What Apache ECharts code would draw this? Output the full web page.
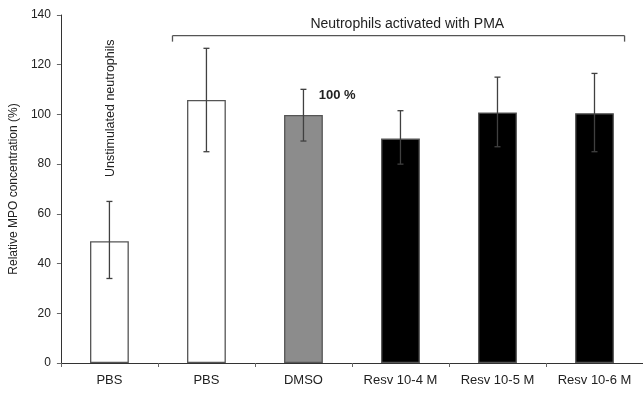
<!DOCTYPE html>
<html><head><meta charset="utf-8">
<script src="https://cdn.jsdelivr.net/npm/echarts@6/dist/echarts.min.js"></script>
<style>html,body{margin:0;padding:0;background:#fff}#c{width:643px;height:393px}</style>
</head><body><div id="c"></div>
<script>
const categories = ['PBS', 'PBS', 'DMSO', 'Resv 10-4 M', 'Resv 10-5 M', 'Resv 10-6 M'];
const means = [49, 105.8, 99.8, 90.3, 100.8, 100.5];
const errLow = [34, 85, 89.3, 80, 87, 85];
const errHigh = [65, 126.6, 110.1, 101.5, 115, 116.5];
const barColors = ['#ffffff', '#ffffff', '#8c8c8c', '#000000', '#000000', '#000000'];
const yTicks = [0, 20, 40, 60, 80, 100, 120, 140];
const bracketText = 'Neutrophils activated with PMA';
const bracketLevel = 131.7;
const unstimText = 'Unstimulated neutrophils';
const pctText = '100 %';

const chart = echarts.init(document.getElementById('c'), null, {renderer: 'canvas'});
const font = 'Liberation Sans, Arial, sans-serif';
const ink = '#222';

chart.setOption({
  animation: false,
  backgroundColor: '#fff',
  grid: {left: 60, top: 15, bottom: 30, width: 594},
  xAxis: {
    type: 'category', data: categories,
    axisLine: {lineStyle: {color: '#333', width: 1}},
    axisTick: {show: true, length: 4, lineStyle: {color: '#666'}},
    axisLabel: {color: ink, fontFamily: font, fontSize: 13, margin: 11}
  },
  yAxis: {
    type: 'value', min: yTicks[0], max: yTicks[yTicks.length - 1], interval: 20,
    name: 'Relative MPO concentration (%)', nameLocation: 'middle', nameGap: 38,
    nameTextStyle: {color: ink, fontFamily: font, fontSize: 12},
    axisLine: {show: true, lineStyle: {color: '#333', width: 1}},
    axisTick: {show: true, length: 4, lineStyle: {color: '#666'}},
    axisLabel: {color: ink, fontFamily: font, fontSize: 12, margin: 10},
    splitLine: {show: false}
  },
  series: [
    {
      type: 'bar', barWidth: '40%',
      data: means.map((v, i) => ({value: v, itemStyle: {color: barColors[i], borderColor: '#555', borderWidth: 1.3}}))
    },
    {
      type: 'custom', z: 5,
      data: means.map((v, i) => [i, errLow[i], errHigh[i]]),
      renderItem: function (params, api) {
        const lo = api.coord([api.value(0), api.value(1)]);
        const hi = api.coord([api.value(0), api.value(2)]);
        const cap = 3;
        const st = {stroke: '#404040', lineWidth: 1.3};
        return {type: 'group', children: [
          {type: 'line', shape: {x1: lo[0], y1: lo[1], x2: hi[0], y2: hi[1]}, style: st},
          {type: 'line', shape: {x1: lo[0] - cap, y1: lo[1], x2: lo[0] + cap, y2: lo[1]}, style: st},
          {type: 'line', shape: {x1: hi[0] - cap, y1: hi[1], x2: hi[0] + cap, y2: hi[1]}, style: st}
        ]};
      }
    },
    {
      type: 'custom', z: 6,
      data: [[1, 5, bracketLevel]],
      renderItem: function (params, api) {
        const band = api.size([1, 0])[0];
        const a = api.coord([api.value(0), api.value(2)]);
        const b = api.coord([api.value(1), api.value(2)]);
        const x1 = a[0] - 0.35 * band, x2 = b[0] + 0.31 * band, y = a[1];
        const st = {stroke: '#555', lineWidth: 1.3};
        return {type: 'group', children: [
          {type: 'line', shape: {x1: x1, y1: y, x2: x2, y2: y}, style: st},
          {type: 'line', shape: {x1: x1, y1: y, x2: x1, y2: y + 6}, style: st},
          {type: 'line', shape: {x1: x2, y1: y, x2: x2, y2: y + 6}, style: st},
          {type: 'text', x: (x1 + x2) / 2 + 0.09 * band, y: y - 4, style: {text: bracketText, fill: ink, font: '14px ' + font, align: 'center', verticalAlign: 'bottom'}}
        ]};
      }
    },
    {
      type: 'custom', z: 6,
      data: [[0, 102.5, 0], [2, 107.8, 1]],
      renderItem: function (params, api) {
        const p = api.coord([api.value(0), api.value(1)]);
        if (api.value(2) === 0) {
          return {type: 'text', x: p[0] + 1, y: p[1], rotation: Math.PI / 2,
            style: {text: unstimText, fill: ink, font: '12.5px ' + font, align: 'center', verticalAlign: 'middle'}};
        }
        const band = api.size([1, 0])[0];
        return {type: 'text', x: p[0] + 0.157 * band, y: p[1],
          style: {text: pctText, fill: ink, font: 'bold 13px ' + font, align: 'left', verticalAlign: 'middle'}};
      }
    }
  ]
});
</script></body></html>
